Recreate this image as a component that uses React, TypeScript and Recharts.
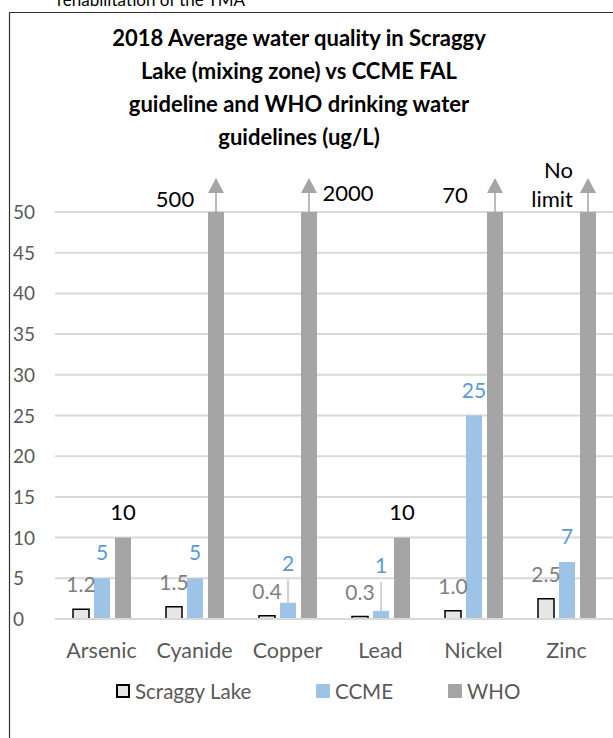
import { Bar, BarChart, CartesianGrid, LabelList, Legend, XAxis, YAxis } from 'recharts';

const metals = ['Arsenic', 'Cyanide', 'Copper', 'Lead', 'Nickel', 'Zinc'];
const scraggyLake = [1.2, 1.5, 0.4, 0.3, 1.0, 2.5];
const ccmeGuideline = [5, 5, 2, 1, 25, 7];
// WHO drinking water guideline, null = no limit
const whoGuideline: (number | null)[] = [10, 500, 2000, 10, 70, null];
const yTicks = [0, 5, 10, 15, 20, 25, 30, 35, 40, 45, 50];
const titleLines = [
  '2018 Average water quality in Scraggy',
  'Lake (mixing zone) vs CCME FAL',
  'guideline and WHO drinking water',
  'guidelines (ug/L)',
];

const Y_MAX = 50;
const FONT = "Lato, 'Liberation Sans', sans-serif";
const AXIS_GREY = '#595959';
const COLORS = { scraggy: '#e7e6e6', ccme: '#9dc3e6', who: '#a5a5a5' };

const data = metals.map((metal, i) => {
  const w = whoGuideline[i];
  return {
    metal,
    scraggy: scraggyLake[i],
    ccme: ccmeGuideline[i],
    who: w === null ? Y_MAX : Math.min(w, Y_MAX),
    whoLabel: w === null ? 'No limit' : String(w),
    whoCapped: w === null || w > Y_MAX,
  };
});

// where the label goes when the WHO bar runs off the axis (from bar centre / bar top)
const cappedLabelPlacement: Record<string, { dx: number; dy: number; anchor: 'middle' | 'end' }> = {
  Cyanide: { dx: -41, dy: -5, anchor: 'middle' },
  Copper: { dx: 39, dy: -11, anchor: 'middle' },
  Nickel: { dx: -40, dy: -9, anchor: 'middle' },
  Zinc: { dx: -15, dy: -5, anchor: 'end' },
};
// CCME labels pushed up with a leader line
const ccmeLabelLift: Record<string, number> = { Copper: 32, Lead: 38 };

const legendItems = [
  { key: 'scraggy', name: 'Scraggy Lake', left: 116 },
  { key: 'ccme', name: 'CCME', left: 316 },
  { key: 'who', name: 'WHO', left: 448 },
] as const;

function WhoBar(props: any) {
  const { x, y, width, height, index } = props;
  const row = data[index];
  const cx = x + width / 2;
  return (
    <g>
      <rect x={x} y={y} width={width} height={height} fill={COLORS.who} />
      {row.whoCapped && (
        <>
          <line x1={cx} x2={cx} y1={y} y2={y - 20} stroke={COLORS.who} strokeWidth={1.5} />
          <polygon points={`${cx - 8},${y - 19} ${cx + 8},${y - 19} ${cx},${y - 34}`} fill={COLORS.who} />
        </>
      )}
    </g>
  );
}

function ScraggyLabel(props: any) {
  const { x, y, width, value } = props;
  return (
    <text x={x + width / 2} y={y - 17} textAnchor="middle" fill="#7f7f7f" fontSize={21} fontFamily={FONT}>
      {Number(value).toFixed(1)}
    </text>
  );
}

function CcmeLabel(props: any) {
  const { x, y, width, value, index } = props;
  const cx = x + width / 2;
  const lift = ccmeLabelLift[metals[index]];
  const base = y - (lift ?? 18);
  return (
    <g>
      {lift && <line x1={cx} x2={cx} y1={y} y2={base + 9} stroke="#a6a6a6" strokeWidth={1} />}
      <text x={cx} y={base} textAnchor="middle" fill="#5b9bd5" fontSize={21} fontFamily={FONT}>
        {value}
      </text>
    </g>
  );
}

function WhoLabel(props: any) {
  const { x, y, width, index } = props;
  const row = data[index];
  const cx = x + width / 2;
  const common = { fill: '#000', fontSize: 22, fontFamily: FONT };
  if (!row.whoCapped) {
    return (
      <text x={cx} y={y - 18} textAnchor="middle" {...common}>
        {row.whoLabel}
      </text>
    );
  }
  const p = cappedLabelPlacement[row.metal];
  const words = row.whoLabel.split(' ');
  if (words.length > 1) {
    return (
      <text textAnchor={p.anchor} {...common}>
        <tspan x={cx + p.dx} y={y + p.dy - 29}>{words[0]}</tspan>
        <tspan x={cx + p.dx} y={y + p.dy}>{words.slice(1).join(' ')}</tspan>
      </text>
    );
  }
  return (
    <text x={cx + p.dx} y={y + p.dy} textAnchor={p.anchor} {...common}>
      {row.whoLabel}
    </text>
  );
}

function MetalTick(props: any) {
  const { x, y, payload } = props;
  return (
    <text x={x} y={y} dy={31} textAnchor="middle" fill={AXIS_GREY} fontSize={21.5} fontFamily={FONT}>
      {payload.value}
    </text>
  );
}

function ValueTick(props: any) {
  const { y, payload } = props;
  return (
    <text x={13} y={y} dy={7} textAnchor="start" fill={AXIS_GREY} fontSize={19} fontFamily={FONT}>
      {payload.value}
    </text>
  );
}

function ChartLegend() {
  return (
    <div style={{ position: 'relative', width: 613, height: 24, fontFamily: FONT, fontSize: 20.5, color: AXIS_GREY }}>
      {legendItems.map((item) => (
        <div
          key={item.key}
          style={{ position: 'absolute', left: item.left, top: 0, height: 24, display: 'flex', alignItems: 'center', gap: 5 }}
        >
          <span
            style={{
              width: 14,
              height: 14,
              boxSizing: 'border-box',
              background: COLORS[item.key],
              border: item.key === 'scraggy' ? '2px solid #000' : 'none',
            }}
          />
          <span>{item.name}</span>
        </div>
      ))}
    </div>
  );
}

export default function App() {
  return (
    <div style={{ position: 'absolute', left: 0, top: 0, width: 613, height: 738, background: '#fff', overflow: 'hidden' }}>
      <BarChart
        width={613}
        height={738}
        data={data}
        margin={{ top: 212, right: 0, bottom: 35, left: 0 }}
        barSize={16}
        barGap={5}
      >
        <CartesianGrid vertical={false} stroke="#d9d9d9" strokeWidth={2} />
        <XAxis
          dataKey="metal"
          height={60}
          interval={0}
          tickLine={false}
          axisLine={{ stroke: '#d9d9d9', strokeWidth: 2 }}
          tick={<MetalTick />}
        />
        <YAxis width={55} domain={[0, Y_MAX]} ticks={yTicks} axisLine={false} tickLine={false} tick={<ValueTick />} />
        <Legend verticalAlign="bottom" wrapperStyle={{ left: 0, width: 613 }} content={() => <ChartLegend />} />
        <Bar dataKey="scraggy" name="Scraggy Lake" fill={COLORS.scraggy} stroke="#000" strokeWidth={1.5} isAnimationActive={false}>
          <LabelList dataKey="scraggy" content={<ScraggyLabel />} />
        </Bar>
        <Bar dataKey="ccme" name="CCME" fill={COLORS.ccme} isAnimationActive={false}>
          <LabelList dataKey="ccme" content={<CcmeLabel />} />
        </Bar>
        <Bar dataKey="who" name="WHO" fill={COLORS.who} shape={<WhoBar />} isAnimationActive={false}>
          <LabelList dataKey="who" content={<WhoLabel />} />
        </Bar>
      </BarChart>
      <svg width={613} height={738} style={{ position: 'absolute', left: 0, top: 0, pointerEvents: 'none' }}>
        <text x={57} y={6} fontSize={17} fontFamily={FONT} fill="#000">
          rehabilitation of the TMA
        </text>
        <path d="M9.5 738 V12.5 H613" fill="none" stroke="#333" strokeWidth={1.2} />
        {titleLines.map((line, i) => (
          <text key={line} x={299} y={46 + i * 33} textAnchor="middle" fontSize={22} fontWeight="bold" fontFamily={FONT} fill="#000">
            {line}
          </text>
        ))}
      </svg>
    </div>
  );
}
